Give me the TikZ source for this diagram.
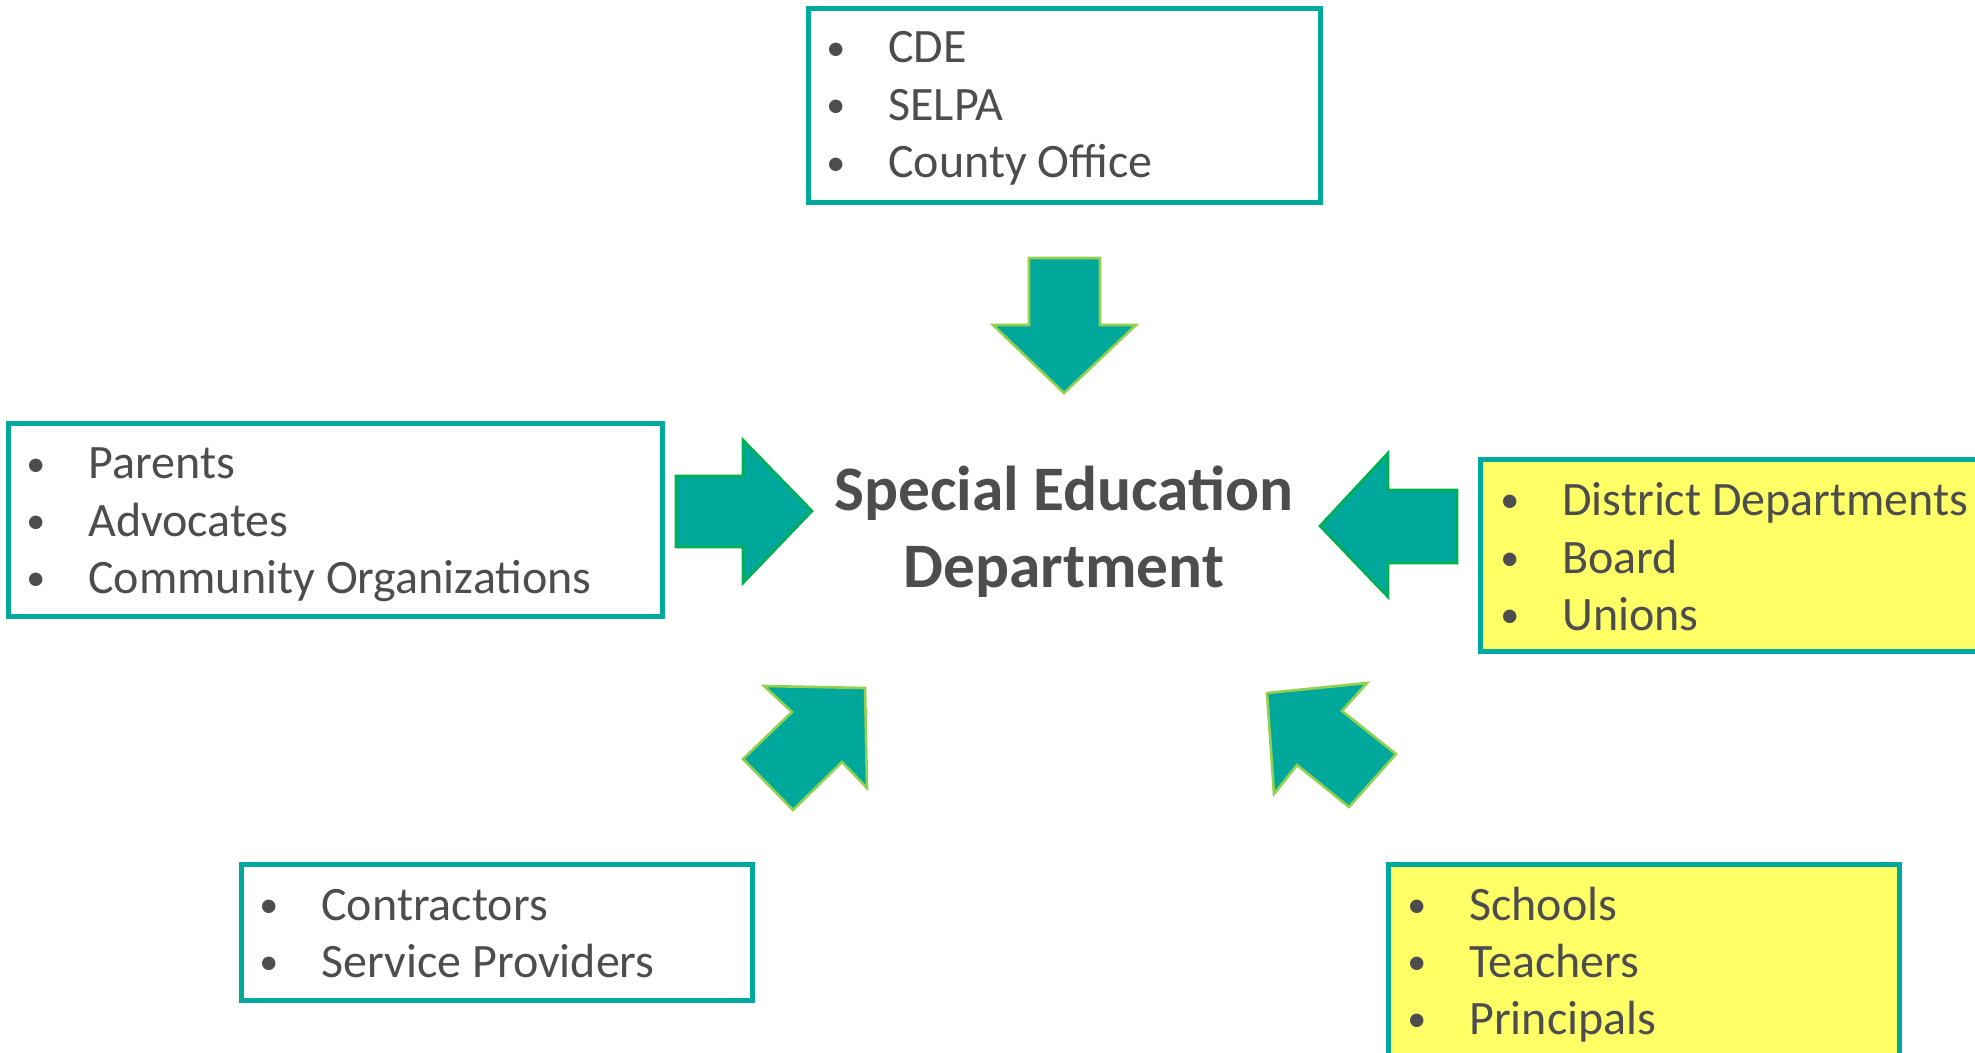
\documentclass[tikz,border=0pt]{standalone}
\usepackage{fontspec}
\setmainfont{Carlito}
\usepackage{tikz}
\usetikzlibrary{fit}
\definecolor{tealbox}{HTML}{00A99D}
\definecolor{tealfill}{HTML}{00A89B}
\definecolor{limeedge}{HTML}{92D050}
\definecolor{greenedge}{HTML}{00B050}
\definecolor{notepad}{HTML}{FFFF66}
\definecolor{inkgray}{HTML}{4D4D4F}
\newcommand{\bul}{\llap{\raisebox{1.3pt}{\fontsize{19}{19}\selectfont\textbullet}\hspace{21.5pt}}}

\begin{document}
\begin{tikzpicture}[
  x=0.5pt,y=-0.5pt,
  box/.style={draw=tealbox,line width=2.5pt,inner sep=0pt,fill=white},
  padbox/.style={box,fill=notepad},
  item/.style={anchor=base west,inner sep=0pt,text=inkgray,
               font=\fontsize{24}{29}\selectfont},
  title/.style={anchor=base,inner sep=0pt,text=inkgray,
                font=\fontsize{31.7}{38}\selectfont\bfseries},
  block/.style={fill=tealfill,draw=limeedge,line width=1.3pt,line join=miter},
  hblock/.style={block,draw=greenedge}
]
\clip (0,0) rectangle (1975,1053);

% source boxes
\node[box,fit={(808.5,8.5) (1320.5,202.5)}] (agencies) {};
\node[box,fit={(8.5,423.5) (662.5,616.5)}] (families) {};
\node[padbox,fit={(1480.5,459.5) (1995,651.5)}] (district) {};
\node[box,fit={(241.5,864.5) (752.5,1000.5)}] (vendors) {};
\node[padbox,fit={(1388.5,864.5) (1899.5,1075)}] (campus) {};

\node[item] (cde) at (888,63) {\bul CDE};
\node[item] (selpa) at (888,120.5) {\bul SELPA};
\node[item] (county) at (888,178) {\bul County Office};

\node[item] (parents) at (88,479) {\bul Parents};
\node[item] (advocates) at (88,536) {\bul Advocates};
\node[item] (community) at (88,593) {\bul Community Organizations};

\node[item] (depts) at (1562,515) {\bul District Departments};
\node[item] (board) at (1562,573) {\bul Board};
\node[item] (unions) at (1562,630) {\bul Unions};

\node[item] (contractors) at (321,920) {\bul Contractors};
\node[item] (providers) at (321,977) {\bul Service Providers};

\node[item] (schools) at (1469,920) {\bul Schools};
\node[item] (teachers) at (1469,977) {\bul Teachers};
\node[item] (principals) at (1469,1034) {\bul Principals};

% the department in the middle
\node[title] (sped1) at (1064,510) {Special Education};
\node[title] (sped2) at (1064,587) {Department};

% block arrows pointing inwards
\draw[block] (1029,258) -- (1100,258) -- (1100,325) -- (1136,325)
  -- (1064,393) -- (993,325) -- (1029,325) -- cycle;
\draw[hblock] (676,476) -- (743,476) -- (743,440) -- (812,511)
  -- (743,583) -- (743,547) -- (676,547) -- cycle;
\draw[hblock] (1457,490) -- (1388,490) -- (1388,453) -- (1320,526)
  -- (1388,597) -- (1388,563) -- (1457,563) -- cycle;
\draw[block] (764,686) -- (865,688) -- (867,788) -- (842,762)
  -- (793,810) -- (743,759) -- (792,712) -- cycle;
\draw[block] (1267,693) -- (1367,683) -- (1342,711) -- (1396,754)
  -- (1349,807) -- (1297,765) -- (1274,794) -- cycle;
\end{tikzpicture}
\end{document}
